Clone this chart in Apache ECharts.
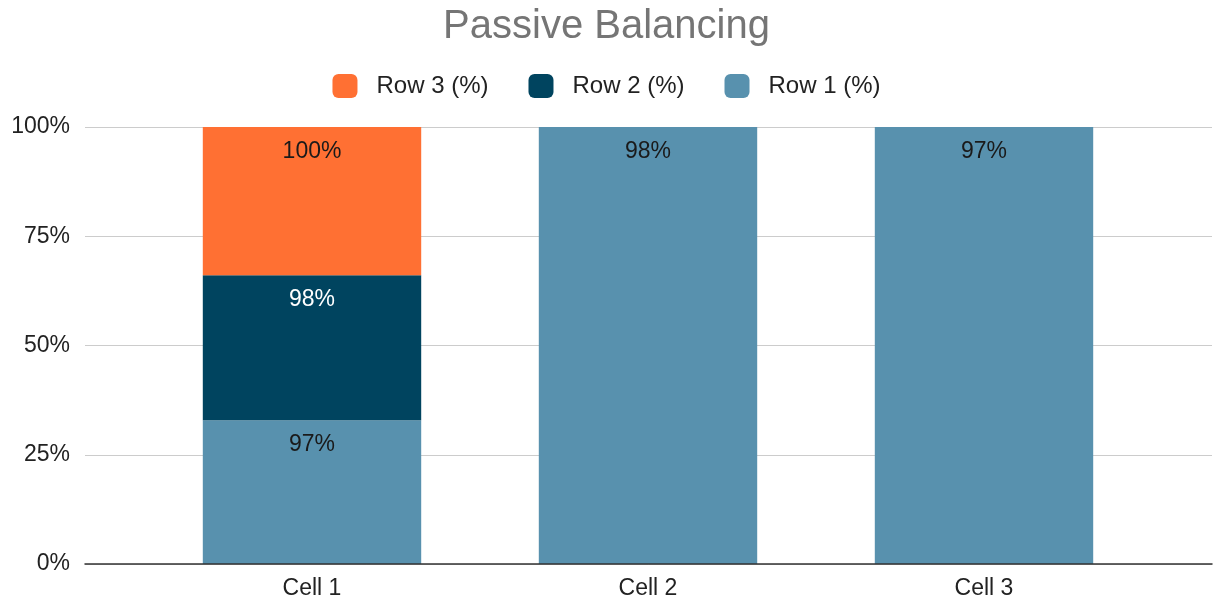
<!DOCTYPE html>
<html>
<head>
<meta charset="utf-8">
<script src="https://cdn.jsdelivr.net/npm/echarts@6/dist/echarts.min.js"></script>
<style>
  html, body { margin: 0; padding: 0; background: #fff; }
  #chart { width: 1213px; height: 601px; }
</style>
</head>
<body>
<div id="chart"></div>
<script>
// Raw efficiency values per cell (percent); null where a row has no value
const categories = ['Cell 1', 'Cell 2', 'Cell 3'];
const row1 = [97, 98, 97];
const row2 = [98, null, null];
const row3 = [100, null, null];
const seriesNames = ['Row 1 (%)', 'Row 2 (%)', 'Row 3 (%)'];
const seriesColors = ['#5891ae', '#00445f', '#ff7033'];
const labelColors = ['#1a1a1a', '#ffffff', '#1a1a1a'];
const yTicks = [0, 25, 50, 75, 100];

const rows = [row1, row2, row3];
// 100% stacking: each segment is its share of the cell's total
const totals = categories.map((_, i) => rows.reduce((s, r) => s + (r[i] || 0), 0));
const shares = rows.map(r => r.map((v, i) => v == null ? null : v / totals[i] * 100));

const FONT = 'Liberation Sans, Arial, sans-serif';
const FS = 23;
const chart = echarts.init(document.getElementById('chart'), null, { renderer: 'canvas' });

const series = rows.map((r, k) => ({
  name: seriesNames[k],
  type: 'bar',
  stack: 'total',
  xAxisIndex: 1,
  yAxisIndex: 1,
  barWidth: '65%',
  itemStyle: { color: seriesColors[k] },
  data: shares[k].map((v, i) => ({ value: v, raw: r[i] })),
  label: {
    show: true,
    position: 'insideTop',
    distance: 13,
    color: labelColors[k],
    fontFamily: FONT,
    fontSize: FS,
    formatter: p => p.data.raw == null ? '' : p.data.raw + '%'
  }
}));

chart.setOption({
  animation: false,
  title: {
    text: 'Passive Balancing',
    left: 'center',
    top: 2,
    textStyle: { color: '#757575', fontFamily: FONT, fontSize: 40, fontWeight: 'normal' }
  },
  legend: {
    data: [seriesNames[2], seriesNames[1], seriesNames[0]],
    top: 69,
    left: 'center',
    itemWidth: 25,
    itemHeight: 24,
    itemGap: 40,
    icon: 'roundRect',
    textStyle: { color: '#222', fontFamily: FONT, fontSize: FS + 1, padding: [0, 0, 0, 14] }
  },
  grid: [
    { left: 85, right: 1, top: 127, bottom: 37 },
    { left: 144, right: 61, top: 127, bottom: 37 }
  ],
  xAxis: [
    {
      gridIndex: 0, type: 'category', data: [''],
      axisLine: { show: true, lineStyle: { color: '#333', width: 1.5 } },
      axisTick: { show: false }, axisLabel: { show: false }, z: 10
    },
    {
      gridIndex: 1, type: 'category', data: categories,
      axisLine: { show: false }, axisTick: { show: false },
      axisLabel: { color: '#222', fontFamily: FONT, fontSize: FS, margin: 13 }
    }
  ],
  yAxis: [
    {
      gridIndex: 0, type: 'value', min: yTicks[0], max: yTicks[yTicks.length - 1], interval: 25,
      axisLine: { show: false }, axisTick: { show: false },
      axisLabel: { color: '#222', fontFamily: FONT, fontSize: FS, margin: 15, padding: [4, 0, 0, 0], formatter: v => v + '%' },
      splitLine: { lineStyle: { color: '#cccccc', width: 1 } }
    },
    {
      gridIndex: 1, type: 'value', min: yTicks[0], max: yTicks[yTicks.length - 1], interval: 25,
      show: false, splitLine: { show: false }
    }
  ],
  series: series
});
</script>
</body>
</html>
